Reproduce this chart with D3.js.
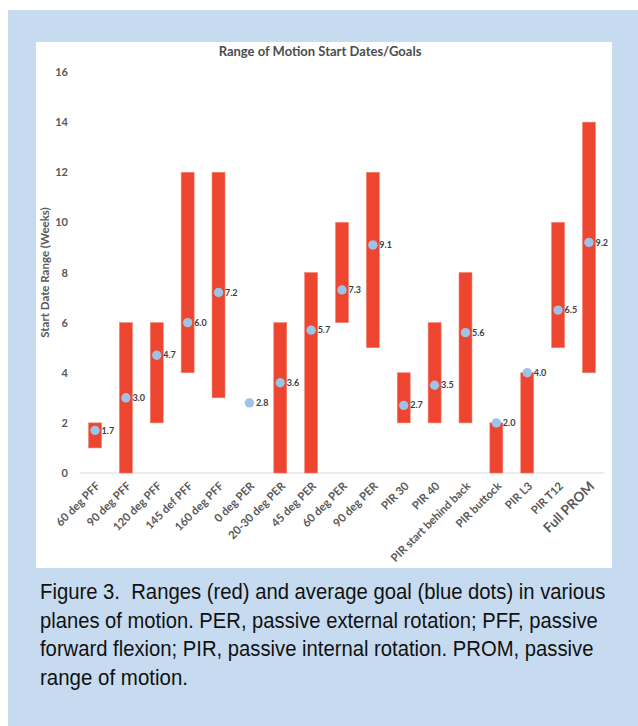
<!doctype html>
<html>
<head>
    <meta charset="UTF-8">
    <title>Range of Motion Start Dates/Goals</title>
    <script src="https://cdn.jsdelivr.net/npm/d3@7"></script>
    <style>
        html, body { margin: 0; padding: 0; background: #fff; }
        svg { display: block; }
        .chart text { font-family: Lato, "Open Sans", sans-serif; font-weight: bold; }
        .caption text { font-family: "Liberation Sans", Arial, sans-serif; fill: #111; white-space: pre; }
    </style>
</head>
<body>
<svg id="fig" width="638" height="726"></svg>
<script>
    // chart data
    var categories = ['60 deg PFF', '90 deg PFF', '120 deg PFF', '145 def PFF', '160 deg PFF',
        '0 deg PER', '20-30 deg PER', '45 deg PER', '60 deg PER', '90 deg PER',
        'PIR 30', 'PIR 40', 'PIR start behind back', 'PIR buttock', 'PIR L3', 'PIR T12', 'Full PROM'];
    var rangeLow  = [1, 0, 2, 4, 3, null, 0, 0, 6, 5, 2, 2, 2, 0, 0, 5, 4];
    var rangeHigh = [2, 6, 6, 12, 12, null, 6, 8, 10, 12, 4, 6, 8, 2, 4, 10, 14];
    var goalAvg   = [1.7, 3.0, 4.7, 6.0, 7.2, 2.8, 3.6, 5.7, 7.3, 9.1, 2.7, 3.5, 5.6, 2.0, 4.0, 6.5, 9.2];
    var yTicks = [0, 2, 4, 6, 8, 10, 12, 14, 16];

    var captionLines = [
        'Figure 3.  Ranges (red) and average goal (blue dots) in various',
        'planes of motion. PER, passive external rotation; PFF, passive',
        'forward flexion; PIR, passive internal rotation. PROM, passive',
        'range of motion.'
    ];
    var captionWidths = [566, 558, 554, 148];

    var rows = categories.map(function (c, i) {
        return {name: c, lo: rangeLow[i], hi: rangeHigh[i], avg: goalAvg[i]};
    });

    var svg = d3.select('#fig');

    // page background and chart panel
    svg.append('rect').attr('x', 8).attr('y', 10).attr('width', 630).attr('height', 716).attr('fill', '#c6dbf0');
    svg.append('rect').attr('x', 36).attr('y', 42).attr('width', 576).attr('height', 526).attr('fill', '#fff');

    var x = d3.scaleBand().domain(categories).range([79.6, 604.4])
        .paddingInner(0.58).paddingOuter(0.29);
    var y = d3.scaleLinear().domain([0, 16]).range([473, 72]);

    var g = svg.append('g').attr('class', 'chart');

    g.append('text')
        .attr('x', 320).attr('y', 56)
        .attr('text-anchor', 'middle')
        .attr('font-size', 13)
        .attr('fill', '#4d4d4d')
        .text('Range of Motion Start Dates/Goals');

    // y axis: labels only, no line
    var yAxis = g.append('g').attr('transform', 'translate(68,0)')
        .call(d3.axisLeft(y).tickValues(yTicks).tickSize(0).tickPadding(0));
    yAxis.select('.domain').remove();
    yAxis.selectAll('text').attr('font-size', 11).attr('fill', '#595959')
        .attr('font-family', 'Lato, sans-serif').attr('font-weight', 'bold');

    g.append('text')
        .attr('transform', 'translate(49,' + y(8) + ') rotate(-90)')
        .attr('text-anchor', 'middle')
        .attr('font-size', 11.5)
        .attr('fill', '#595959')
        .text('Start Date Range (Weeks)');

    // baseline
    g.append('line')
        .attr('x1', 79.6).attr('x2', 604.4)
        .attr('y1', y(0)).attr('y2', y(0))
        .attr('stroke', '#d9d9d9').attr('stroke-width', 1.2);

    // ranges
    g.append('g').selectAll('rect')
        .data(rows.filter(function (d) { return d.lo !== null; }))
        .enter().append('rect')
        .attr('x', function (d) { return x(d.name); })
        .attr('width', x.bandwidth())
        .attr('y', function (d) { return y(d.hi); })
        .attr('height', function (d) { return y(d.lo) - y(d.hi); })
        .attr('fill', '#ee4530')
        .attr('stroke', '#f3836f').attr('stroke-width', 0.6);

    // average goals
    g.append('g').selectAll('circle')
        .data(rows).enter().append('circle')
        .attr('cx', function (d) { return x(d.name) + x.bandwidth() / 2; })
        .attr('cy', function (d) { return y(d.avg); })
        .attr('r', 4.7)
        .attr('fill', '#9dc3e6');

    g.append('g').selectAll('text')
        .data(rows).enter().append('text')
        .attr('x', function (d) { return x(d.name) + x.bandwidth() / 2 + 6.5; })
        .attr('y', function (d) { return y(d.avg); })
        .attr('dy', '0.35em')
        .attr('font-size', 9)
        .attr('fill', '#404040')
        .text(function (d) { return d3.format('.1f')(d.avg); });

    // category labels, rotated
    g.append('g').selectAll('text')
        .data(rows).enter().append('text')
        .attr('transform', function (d) {
            return 'translate(' + (x(d.name) + x.bandwidth() / 2 + 3) + ',484) rotate(-45)';
        })
        .attr('text-anchor', 'end')
        .attr('dy', '0.35em')
        .attr('font-size', function (d) { return d.name == 'Full PROM' ? 13.5 : 11.3; })
        .attr('fill', '#595959')
        .text(function (d) { return d.name; });

    // caption: condensed look by squeezing each line to its width in the figure
    var cap = svg.append('g').attr('class', 'caption');
    cap.selectAll('text').data(captionLines).enter().append('text')
        .attr('font-size', 22)
        .text(function (d) { return d; })
        .attr('transform', function (d, i) {
            var w = this.getComputedTextLength();
            var k = captionWidths[i] / w;
            return 'translate(40,' + (599 + i * 28.5) + ') scale(' + k + ',1)';
        });
</script>
</body>
</html>
